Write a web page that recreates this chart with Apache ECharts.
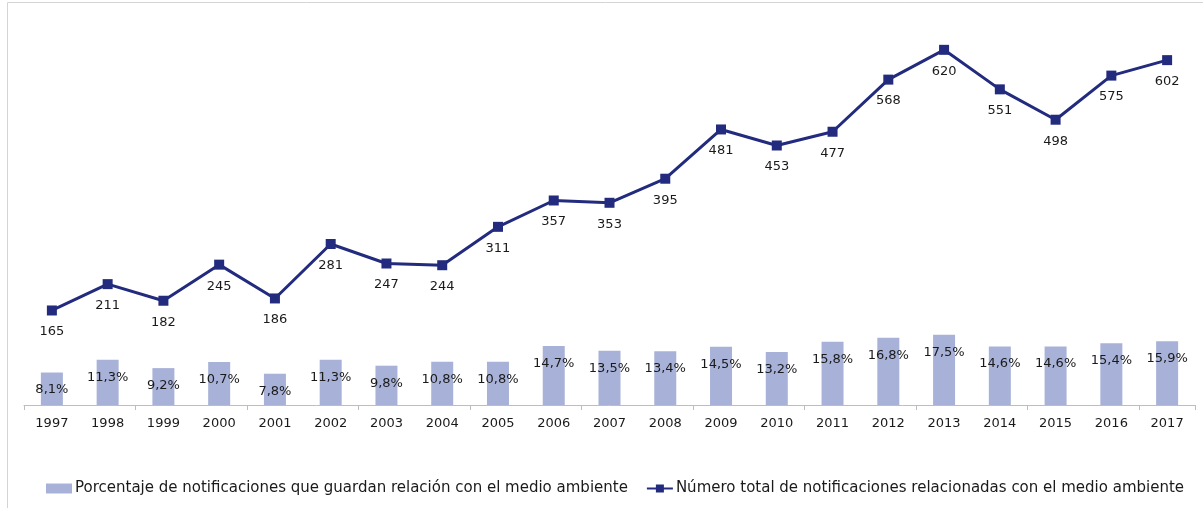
<!DOCTYPE html>
<html>
<head>
<meta charset="utf-8">
<script src="https://cdn.jsdelivr.net/npm/echarts@6/dist/echarts.min.js"></script>
<style>
	html, body { margin: 0; padding: 0; background: #fff; }
	#chart { width: 1203px; height: 508px; }
</style>
</head>
<body>
<div id="chart"></div>
<script>
const years = ["1997", "1998", "1999", "2000", "2001", "2002", "2003", "2004", "2005", "2006", "2007",
	"2008", "2009", "2010", "2011", "2012", "2013", "2014", "2015", "2016", "2017"]
// porcentaje (eje secundario, 0-100)
const percentages = [8.1, 11.3, 9.2, 10.7, 7.8, 11.3, 9.8, 10.8, 10.8, 14.7, 13.5,
	13.4, 14.5, 13.2, 15.8, 16.8, 17.5, 14.6, 14.6, 15.4, 15.9]
// numero total de notificaciones
const totals = [165, 211, 182, 245, 186, 281, 247, 244, 311, 357, 353,
	395, 481, 453, 477, 568, 620, 551, 498, 575, 602]

const barName = "Porcentaje de notificaciones que guardan relación con el medio ambiente"
const lineName = "Número total de notificaciones relacionadas con el medio ambiente"

const font = "DejaVu Sans"
const textColor = "#1a1a1a"

const chart = echarts.init(document.getElementById("chart"))
chart.setOption({
	backgroundColor: "#fff",
	animation: false,
	textStyle: { fontFamily: font, color: textColor },
	graphic: [
		{
			type: "rect",
			shape: { x: 7.5, y: 2.5, width: 1400, height: 700 },
			style: { fill: "none", stroke: "#d4d4d4", lineWidth: 1 },
			silent: true
		}
	],
	legend: {
		top: 476,
		left: 41,
		itemGap: 18,
		itemWidth: 26,
		itemHeight: 10,
		textStyle: { fontFamily: font, fontSize: 15, color: textColor, padding: [0, 0, 0, -2] },
		data: [
			{ name: barName, icon: "rect" },
			{ name: lineName }
		]
	},
	grid: {
		left: 24,
		top: 4,
		width: 1171,
		height: 401,
		containLabel: false
	},
	xAxis: {
		type: "category",
		data: years,
		boundaryGap: true,
		axisLine: { lineStyle: { color: "#bdbdbd", width: 1 } },
		axisTick: { show: true, interval: 1, length: 5, lineStyle: { color: "#bdbdbd" } },
		axisLabel: { fontFamily: font, fontSize: 13, color: textColor, margin: 12, interval: 0 }
	},
	yAxis: [
		{
			type: "value",
			min: 0,
			max: 700,
			show: false,
			splitLine: { show: false }
		},
		{
			type: "value",
			min: 0,
			max: 100,
			show: false,
			splitLine: { show: false }
		}
	],
	series: [
		{
			name: barName,
			type: "bar",
			yAxisIndex: 1,
			data: percentages,
			barWidth: 22,
			itemStyle: { color: "#a8b2d8" },
			label: {
				show: true,
				position: "insideTop",
				distance: 11,
				fontFamily: font,
				fontSize: 13,
				color: textColor,
				formatter: p => String(p.value).replace(".", ",") + "%"
			},
			z: 1
		},
		{
			name: lineName,
			type: "line",
			yAxisIndex: 0,
			data: totals,
			symbol: "rect",
			symbolSize: 10,
			lineStyle: { color: "#222b7e", width: 3 },
			itemStyle: { color: "#222b7e" },
			label: {
				show: true,
				position: "bottom",
				distance: 10,
				fontFamily: font,
				fontSize: 13,
				color: textColor
			},
			z: 3
		}
	]
})
</script>
</body>
</html>
